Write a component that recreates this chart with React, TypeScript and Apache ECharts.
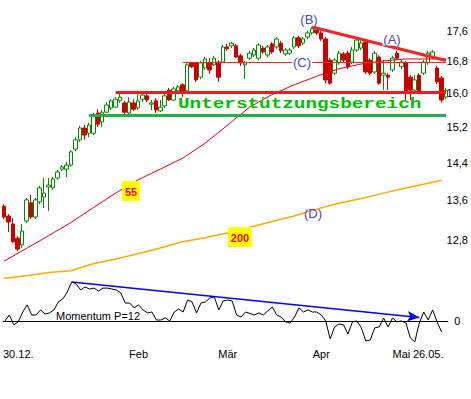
import React, { useEffect, useRef } from 'react';
import * as echarts from 'echarts';

const categories: string[] = Array.from({ length: 100 }, (_, i) => String(i + 1));

const opens = [13.48,13.28,13.12,12.84,12.71,13.18,13.55,13.26,13.57,13.67,13.88,13.86,14.07,14.26,14.26,14.35,14.70,14.91,15.18,15.06,15.06,15.53,15.32,15.55,15.65,15.67,15.82,15.77,15.53,15.77,15.65,15.86,15.94,15.74,15.82,15.58,15.70,16.08,15.84,16.06,16.21,16.06,16.76,16.76,16.40,16.63,16.76,16.71,16.78,16.78,17.17,17.20,17.20,16.94,16.71,16.88,16.96,16.88,17.14,16.96,17.25,17.17,17.27,16.99,17.01,17.17,17.41,17.27,17.43,17.54,17.62,17.54,17.38,16.83,16.50,16.76,16.99,17.01,16.78,17.09,17.14,17.30,16.83,16.53,16.91,16.45,16.45,16.58,17.01,16.66,16.76,16.40,16.08,16.45,16.50,16.76,16.91,16.63,16.38,15.91];
const closes = [13.26,13.16,12.77,12.63,12.98,13.61,13.26,13.61,13.86,13.75,13.92,14.05,14.20,14.31,14.35,14.64,14.91,15.18,15.02,15.25,15.48,15.27,15.55,15.72,15.82,15.86,15.91,15.55,15.79,15.62,15.82,15.96,15.84,15.77,15.60,15.67,15.94,15.84,16.11,16.16,16.03,16.71,16.66,16.33,16.76,16.86,16.58,16.88,16.40,17.17,17.12,17.27,16.91,16.76,16.76,17.01,17.09,17.22,17.04,17.17,17.04,17.38,17.07,17.09,17.09,17.41,17.20,17.38,17.54,17.65,17.54,17.38,16.33,16.25,16.83,17.01,16.83,16.66,17.09,17.35,17.27,16.53,16.50,17.01,16.25,16.50,16.40,16.88,16.88,16.78,16.03,16.08,16.33,16.03,16.78,17.01,17.04,16.28,15.84,16.08];
const lows = [13.22,12.96,12.75,12.59,12.65,13.14,13.22,13.22,13.52,13.44,13.38,13.82,14.03,14.22,14.09,14.31,14.66,14.86,14.91,14.97,15.02,15.20,15.20,15.53,15.60,15.65,15.77,15.51,15.48,15.58,15.60,15.79,15.79,15.60,15.53,15.55,15.65,15.82,15.82,16.01,15.91,16.03,16.63,16.28,16.35,16.58,16.48,16.68,16.28,16.76,17.07,17.14,16.88,16.68,16.35,16.83,16.91,16.83,16.99,16.91,16.99,17.12,17.01,16.94,16.96,17.12,17.14,17.22,17.38,17.49,17.49,17.33,16.25,16.21,16.45,16.71,16.78,16.60,16.73,17.04,17.09,16.48,16.45,16.48,16.21,16.08,16.08,16.53,16.83,16.60,15.84,15.84,16.03,15.99,16.45,16.71,16.86,16.23,15.77,15.86];
const highs = [13.52,13.32,13.24,12.88,13.12,13.65,13.71,13.65,13.90,14.07,14.07,14.09,14.24,14.35,14.42,14.68,14.97,15.23,15.25,15.30,15.53,15.62,15.60,15.79,15.86,15.91,15.99,15.82,15.91,15.86,15.99,16.03,15.99,15.84,15.89,15.84,15.99,16.13,16.16,16.21,16.25,16.76,16.78,16.78,16.81,16.91,16.88,16.94,16.83,17.22,17.25,17.30,17.25,16.99,16.81,17.07,17.14,17.27,17.20,17.22,17.30,17.43,17.33,17.14,17.14,17.46,17.46,17.43,17.59,17.70,17.67,17.59,17.43,16.88,16.88,17.07,17.04,17.07,17.17,17.41,17.33,17.35,16.88,17.07,16.96,16.83,16.50,16.94,17.07,16.83,16.81,16.45,16.45,16.50,16.83,17.07,17.09,16.68,16.43,16.13];

const ma55Index = [0,5,10,15,20,25,30,35,40,45,50,55,60,65,70,75,80,85,90,95,99];
const ma55Values = [12.40,12.64,12.89,13.15,13.45,13.75,14.03,14.26,14.50,14.83,15.24,15.67,15.97,16.21,16.42,16.61,16.73,16.81,16.86,16.86,16.86];
const ma200Index = [0,5,10,15,20,25,30,35,40,45,50,55,60,65,70,75,80,85,90,95,98];
const ma200Values = [12.08,12.13,12.19,12.22,12.35,12.44,12.54,12.65,12.77,12.85,12.94,13.05,13.17,13.28,13.42,13.54,13.64,13.75,13.86,13.96,14.02];

const momentumIndex = [0,1,2,3,4,5,6,7,8,9,10,11,12,13,14,15,16,17,18,19,20,21,22,23,24,25,26,27,28,29,30,31,32,33,34,35,36,37,38,39,40,41,42,43,44,45,46,47,48,49,50,51,52,53,54,56,57,58,60,61,62,63,64,65,66,67,68,69,70,71,72,73,74,75,76,77,78,79,80,81,82,83,84,85,86,87,88,89,90,91,92,93,94,95,96,97,98];
const momentumValues = [0,0.26,-0.17,-0.04,0.39,0.70,0.26,0.26,0.48,0.30,0.35,0.48,0.83,0.96,1.26,1.70,1.61,1.35,1.48,1.39,1.43,1.30,1.43,1.43,1.39,1.35,1.22,0.78,0.78,0.57,0.70,0.48,0.35,0.39,0.04,0.04,0.13,0,0.39,0.52,0.39,0.91,0.83,0.35,0.78,0.83,1.00,1.04,0.48,0.87,0.91,0.87,0.26,0.17,0.39,0.26,0.35,0.26,0.61,0.26,0.17,-0.04,-0.09,0.17,0.57,0.39,0.48,0.39,0.39,0.26,0,-0.78,-0.26,-0.13,-0.17,-0.57,-0.04,0,-0.30,-0.87,-0.83,-0.30,-0.26,0.13,-0.26,0.13,-0.04,0,-0.09,-0.74,-0.91,-0.09,0.39,0.04,0.48,-0.04,-0.48];

const xTickIndex = [3, 30, 50, 71, 89, 95];
const xTickText = ['30.12.', 'Feb', 'Mär', 'Apr', 'Mai', '26.05.'];
const priceTicks = [12.8, 13.6, 14.4, 15.2, 16.0, 16.8, 17.6];
const priceMin = 12.05;
const priceMax = 18.3;

const supportRed = 16.02;
const supportGreen = 15.47;
const levelC = 16.78;
const trendBA = [{ i: 69, p: 17.70 }, { i: 99, p: 16.82 }];
const momTrend = [{ i: 15, v: 1.70 }, { i: 93, v: 0.15 }];

export default function App() {
  const ref = useRef<HTMLDivElement>(null);
  useEffect(() => {
    const chart = echarts.init(ref.current!, null, { renderer: 'svg' });
    const L = Math.log;
    const font = 'Liberation Sans, Arial, sans-serif';
    const candleData = opens.map((o, i) => [L(o), L(closes[i]), L(lows[i]), L(highs[i])]);
    const lbl = (text: string, x: number, y: number, bg?: boolean) => ({
      type: 'text', x, y, z: 100,
      style: {
        text, fill: '#4646d6', font: '13px ' + font,
        align: 'center', verticalAlign: 'middle', textAlign: 'center', textVerticalAlign: 'middle',
        backgroundColor: bg ? '#fff' : undefined, padding: bg ? [0, 1] : undefined,
      },
    });
    const box = (text: string, x: number, y: number, w: number, h: number) => ({
      type: 'group', z: 100, children: [
        { type: 'rect', shape: { x, y, width: w, height: h }, style: { fill: '#ffff00' }, z: 100 },
        { type: 'text', x: x + w / 2, y: y + h / 2 + 0.5, z: 101, style: { text, fill: '#ff0000', font: 'bold 11px ' + font, align: 'center', verticalAlign: 'middle', textAlign: 'center', textVerticalAlign: 'middle' } },
      ],
    });
    const option: any = {
      animation: false,
      backgroundColor: '#ffffff',
      textStyle: { fontFamily: font },
      grid: [
        { left: 1.77, right: 22.77, top: 5, height: 275 },
        { left: 1.77, right: 22.77, top: 275, height: 71 },
      ],
      xAxis: [
        { type: 'category', gridIndex: 0, data: categories, show: false },
        {
          type: 'category', gridIndex: 1, data: categories,
          axisLine: { show: false }, axisTick: { show: false }, splitLine: { show: false },
          axisLabel: {
            interval: (i: number) => xTickIndex.includes(i),
            formatter: (_v: string, i: number) => xTickText[xTickIndex.indexOf(i)] ?? '',
            color: '#000', fontSize: 11, margin: 2, fontFamily: font,
          },
        },
      ],
      yAxis: [
        {
          type: 'value', gridIndex: 0, position: 'right', min: L(priceMin), max: L(priceMax), scale: true,
          splitLine: { show: false }, axisLine: { show: false }, axisTick: { show: false },
          axisLabel: {
            customValues: priceTicks.map(L),
            formatter: (v: number) => Math.exp(v).toFixed(1).replace('.', ','),
            color: '#000', fontSize: 11, margin: 9, align: 'center', fontFamily: font,
          },
        },
        {
          type: 'value', gridIndex: 1, position: 'right', min: -1.09, max: 2.0,
          splitLine: { show: false }, axisLine: { show: false }, axisTick: { show: false },
          axisLabel: { customValues: [0], formatter: () => '0', color: '#000', fontSize: 11, margin: 9, align: 'center', fontFamily: font },
        },
      ],
      series: [
        {
          type: 'candlestick', xAxisIndex: 0, yAxisIndex: 0, data: candleData, barWidth: 4,
          itemStyle: { color: '#ffffff', color0: '#cc0000', borderColor: '#008a00', borderColor0: '#cc0000', borderWidth: 1 },
          markLine: {
            silent: true, symbol: ['none', 'none'], label: { show: false }, animation: false,
            data: [
              [{ coord: [40, L(levelC)], lineStyle: { color: '#ff2020', width: 1, type: 'solid' } }, { coord: [99, L(levelC)] }],
              [{ coord: [25, L(supportRed)], lineStyle: { color: '#ee1c1c', width: 3, type: 'solid' } }, { coord: [99, L(supportRed)] }],
              [{ coord: [19, L(supportGreen)], lineStyle: { color: '#1fb24a', width: 3, type: 'solid' } }, { coord: [99, L(supportGreen)] }],
              [{ coord: [trendBA[0].i, L(trendBA[0].p)], lineStyle: { color: '#ee2828', width: 3, type: 'solid' } }, { coord: [trendBA[1].i, L(trendBA[1].p)] }],
            ],
          },
        },
        {
          type: 'line', xAxisIndex: 0, yAxisIndex: 0, symbol: 'none',
          data: ma55Index.map((i, k) => [i, L(ma55Values[k])]),
          lineStyle: { color: '#ee0000', width: 1 },
        },
        {
          type: 'line', xAxisIndex: 0, yAxisIndex: 0, symbol: 'none',
          data: ma200Index.map((i, k) => [i, L(ma200Values[k])]),
          lineStyle: { color: '#ffaa00', width: 1.5 },
        },
        {
          type: 'line', xAxisIndex: 1, yAxisIndex: 1, symbol: 'none',
          data: momentumIndex.map((i, k) => [i, momentumValues[k]]),
          lineStyle: { color: '#000', width: 1 },
          markLine: {
            silent: true, symbol: ['none', 'none'], label: { show: false }, animation: false,
            data: [
              { yAxis: 0, lineStyle: { color: '#000', width: 1, type: 'solid' } },
              [
                { coord: [momTrend[0].i, momTrend[0].v], symbol: 'none', lineStyle: { color: '#0000ff', width: 1.5, type: 'solid' } },
                { coord: [momTrend[1].i, momTrend[1].v], symbol: 'arrow', symbolSize: [8, 12] },
              ],
            ],
          },
        },
      ],
      graphic: [
        lbl('(B)', 309, 19),
        lbl('(A)', 392, 39, true),
        lbl('(C)', 302, 62, true),
        lbl('(D)', 313, 213),
        box('55', 122, 181, 18, 20),
        box('200', 228, 227, 24, 20),
        {
          type: 'text', x: 178, y: 104, z: 100, scaleX: 1.38,
          style: { text: 'Unterstützungsbereich', fill: '#00c000', font: 'bold 14px Liberation Mono', align: 'left', verticalAlign: 'middle', textAlign: 'left', textVerticalAlign: 'middle' },
        },
        {
          type: 'text', x: 56, y: 316, z: 100,
          style: { text: 'Momentum P=12', fill: '#000', font: '11px ' + font, align: 'left', verticalAlign: 'middle', textAlign: 'left', textVerticalAlign: 'middle' },
        },
      ],
    };
    chart.setOption(option);
    return () => chart.dispose();
  }, []);
  return <div ref={ref} style={{ position: 'fixed', left: 0, top: 0, width: 471, height: 399 }} />;
}
